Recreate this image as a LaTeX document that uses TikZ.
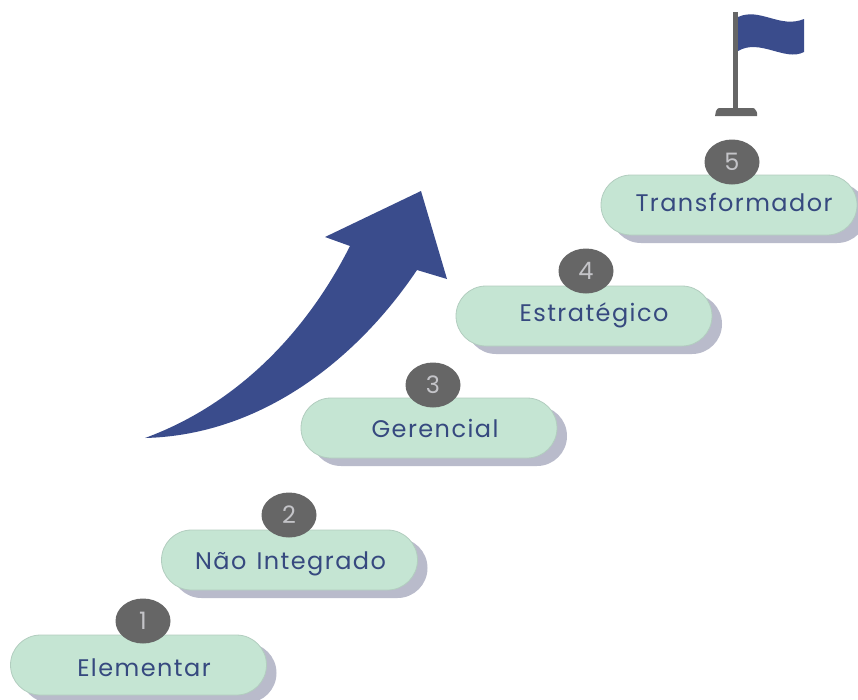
\documentclass[tikz,border=0pt]{standalone}
\usepackage{fontspec}
\setmainfont[LetterSpace=6,WordSpace=1.3]{Poppins}
\usetikzlibrary{shapes.geometric,shadows}
\definecolor{pillgreen}{HTML}{C5E5D3}
\definecolor{pillline}{HTML}{B2CDBF}
\definecolor{pillshadow}{HTML}{B9BBCB}
\definecolor{badgegrey}{HTML}{666666}
\definecolor{numgrey}{HTML}{C4C4C8}
\definecolor{navy}{HTML}{3A4C8C}
\definecolor{labelblue}{HTML}{36497F}
\tikzset{
  pill/.style={draw=pillline, line width=0.8pt, fill=pillgreen, rounded corners=30pt,
    minimum width=256pt, minimum height=60pt, inner sep=0pt,
    drop shadow={shadow xshift=10pt, shadow yshift=-8pt, fill=pillshadow, opacity=1}},
  steplabel/.style={anchor=base, inner sep=0pt, text=labelblue, font=\fontsize{24}{24}\selectfont},
  badge/.style={ellipse, fill=badgegrey, minimum width=55pt, minimum height=45pt, inner sep=0pt,
    text=numgrey, font=\fontsize{24}{24}\selectfont},
}
\begin{document}
\begin{tikzpicture}[x=1pt, y=-1pt]
\useasboundingbox (0,0) rectangle (858,699);
% steps
\node[pill] (elementar) at (138.5,665) {};
\node[pill] (naointegrado) at (289.5,560) {};
\node[pill] (gerencial) at (429,428) {};
\node[pill] (estrategico) at (584,316) {};
\node[pill] (transformador) at (729,205) {};
\node[steplabel] (elementartxt) at (144,676) {Elementar};
\node[steplabel] (naointegradotxt) at (290.5,569) {Não Integrado};
\node[steplabel] (gerencialtxt) at (435,437) {Gerencial};
\node[steplabel] (estrategicotxt) at (594,321) {Estratégico};
\node[steplabel] (transformadortxt) at (734,211) {Transformador};
% numbers
\node[badge] (um) at (143,621) {1};
\node[badge] (dois) at (289,515) {2};
\node[badge] (tres) at (433,385) {3};
\node[badge] (quatro) at (586,271) {4};
\node[badge] (cinco) at (732,162) {5};
% big arrow
\fill[navy] (145,438) .. controls (235,405) and (305,335) .. (350,246)
  -- (325,237) -- (421,191) -- (447,279) -- (417,270)
  .. controls (360,355) and (265,435) .. cycle;
% flag
\fill[navy] (738,17) .. controls (760,7) and (780,29) .. (804,19)
  -- (804,52) .. controls (785,62) and (760,38) .. (738,51) -- cycle;
\fill[badgegrey] (733,12) rectangle (738,109);
\fill[badgegrey] (715,116) -- (716,111) [rounded corners=1pt] -- (718,108) -- (754,108) -- (757,112) [sharp corners] -- (757,116) -- cycle;
\end{tikzpicture}
\end{document}
